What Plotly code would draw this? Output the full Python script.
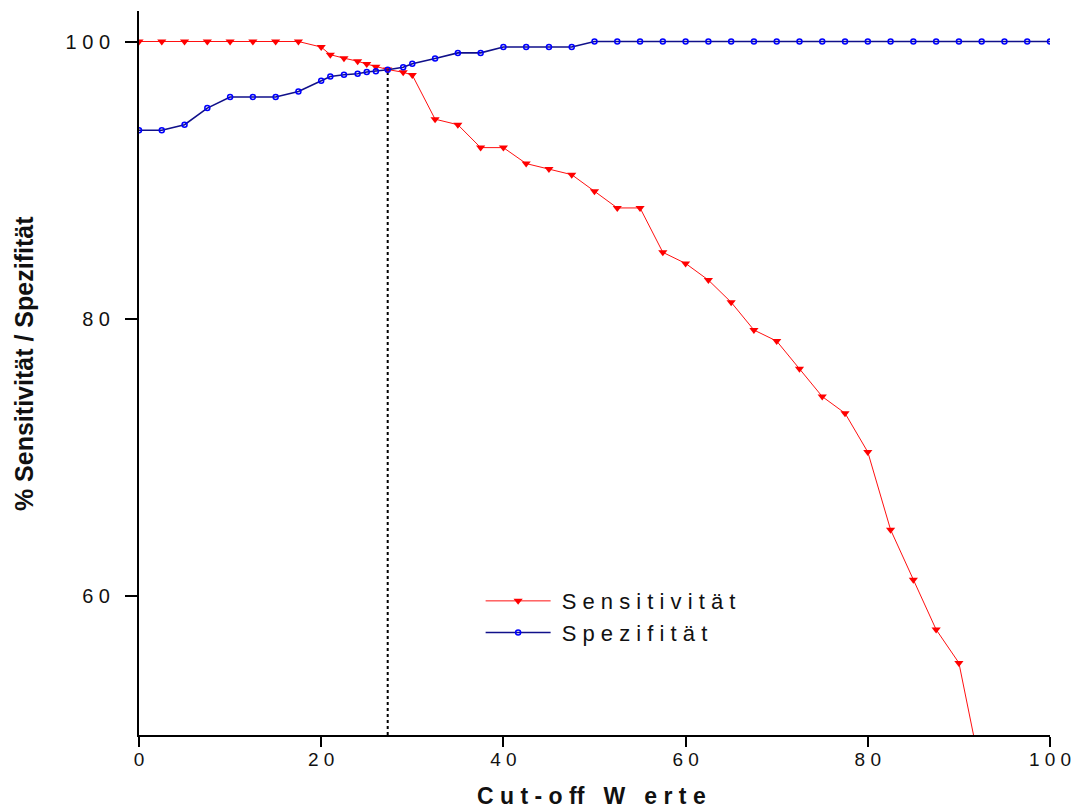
import plotly.graph_objects as go

cutoff = [0, 2.5, 5, 7.5, 10, 12.5, 15, 17.5, 20, 21, 22.5, 24, 25, 26, 27.3, 29, 30,
          32.5, 35, 37.5, 40, 42.5, 45, 47.5, 50, 52.5, 55, 57.5, 60, 62.5, 65, 67.5,
          70, 72.5, 75, 77.5, 80, 82.5, 85, 87.5, 90, 92.5, 95, 97.5, 100]

sensitivitaet = [100, 100, 100, 100, 100, 100, 100, 100, 99.6, 99.05, 98.8, 98.58, 98.37,
                 98.18, 97.98, 97.78, 97.58, 94.4, 94.0, 92.35, 92.35, 91.2, 90.8, 90.4,
                 89.2, 88.0, 88.0, 84.8, 84.0, 82.8, 81.2, 79.2, 78.4, 76.4, 74.4, 73.2,
                 70.4, 64.8, 61.2, 57.6, 55.2, 47.1]

spezifitaet = [93.6, 93.6, 94.0, 95.2, 96.0, 96.0, 96.0, 96.4, 97.17, 97.48, 97.6, 97.68,
               97.8, 97.86, 97.97, 98.15, 98.39, 98.78, 99.18, 99.18, 99.6, 99.6, 99.6,
               99.6, 100, 100, 100, 100, 100, 100, 100, 100, 100, 100, 100, 100, 100,
               100, 100, 100, 100, 100, 100, 100, 100]

cut_x = 27.3
cut_y = 97.97
y_min = 50

ytick_vals = [60, 80, 100]
ytick_text = ["6 0", "8 0", "1 0 0"]
xtick_vals = [0, 20, 40, 60, 80, 100]
xtick_text = ["0", "2 0", "4 0", "6 0", "8 0", "1 0 0"]

x_title = "C u t - o ff   W   e r t e"
y_title = "% Sensitivität / Spezifität"
name_sens = "\u00a0S e n s i t i v i t ä t"
name_spez = "\u00a0S p e z i f i t ä t"

fig = go.Figure()

fig.add_trace(go.Scatter(
    x=[cut_x, cut_x], y=[y_min, cut_y], mode="lines",
    line=dict(color="black", width=2, dash="dot"), showlegend=False, hoverinfo="skip"))

fig.add_trace(go.Scatter(
    x=cutoff[:len(sensitivitaet)], y=sensitivitaet, mode="lines+markers",
    name=name_sens,
    line=dict(color="#ff1010", width=1),
    marker=dict(symbol="triangle-down", size=8, color="#ff0000")))

fig.add_trace(go.Scatter(
    x=cutoff, y=spezifitaet, mode="lines+markers",
    name=name_spez,
    line=dict(color="#10108a", width=1.6),
    marker=dict(symbol="circle-open", size=5, color="#0000ff", line=dict(width=1.5))))

fig.update_layout(
    width=1076, height=809,
    margin=dict(l=139, r=26, t=11, b=74, autoexpand=False),
    plot_bgcolor="white", paper_bgcolor="white",
    font=dict(family="Liberation Sans, Arial, sans-serif", color="#111"),
    legend=dict(x=0.375, y=0.214, xanchor="left", yanchor="top",
                bgcolor="rgba(0,0,0,0)", font=dict(size=22, color="#111"),
                itemwidth=65, tracegroupgap=0),
    xaxis=dict(range=[0, 100], showgrid=False, zeroline=False, automargin=False,
               showline=True, linecolor="black", linewidth=2,
               ticks="outside", ticklen=10, tickwidth=2, tickcolor="black",
               tickvals=xtick_vals, ticktext=xtick_text, ticklabelstandoff=-4,
               tickfont=dict(size=19, color="#111")),
    yaxis=dict(range=[y_min, 102.2], showgrid=False, zeroline=False, automargin=False,
               showline=True, linecolor="black", linewidth=2,
               ticks="outside", ticklen=12, tickwidth=1.5, tickcolor="black",
               tickvals=ytick_vals, ticktext=ytick_text, ticklabelstandoff=11,
               tickfont=dict(size=20, color="#111")),
    annotations=[
        dict(text="<b>" + x_title + "</b>", xref="paper", yref="paper",
             x=0.497, y=-0.0843, xanchor="center", yanchor="middle", showarrow=False,
             font=dict(size=23, color="#111")),
        dict(text="<b>" + y_title + "</b>", xref="paper", yref="paper",
             x=-0.1262, y=0.5124, xanchor="center", yanchor="middle", showarrow=False,
             textangle=-90, font=dict(size=25, color="#111")),
    ],
)

fig.write_html("out.html")
